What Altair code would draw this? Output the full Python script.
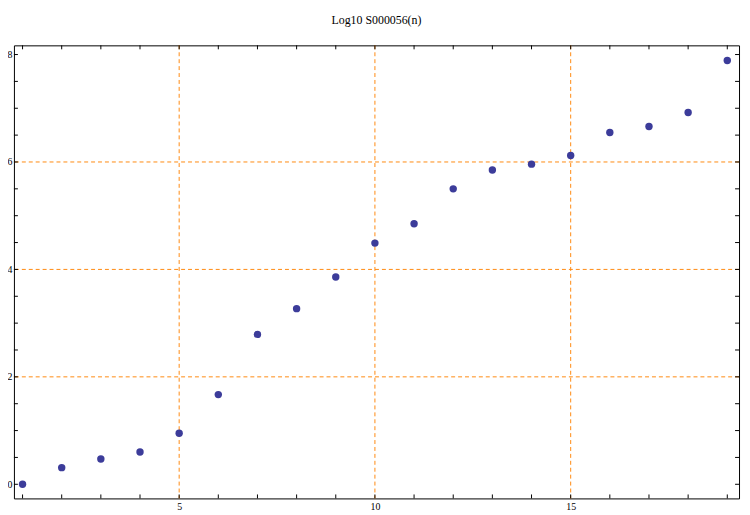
import altair as alt
import pandas as pd

# ---- data ----
n_values = list(range(1, 20))
log_values = [0.0, 0.31, 0.47, 0.60, 0.95, 1.67, 2.79, 3.27, 3.86, 4.49,
              4.85, 5.50, 5.85, 5.96, 6.12, 6.55, 6.66, 6.92, 7.89]
x_labels = [5, 10, 15]
y_labels = [0, 2, 4, 6, 8]
grid_x = [5, 10, 15]
grid_y = [2, 4, 6]
x_minor = list(range(1, 20))
y_minor = [i * 0.5 for i in range(0, 17)]

W, H = 733, 458
FONT = "Liberation Serif"
ORANGE = "#FF8A10"
DOT = "#3C3C9A"

df = pd.DataFrame({"n": n_values, "v": log_values})
xs = alt.Scale(domain=[0.78, 19.30], nice=False, zero=False)
ys = alt.Scale(domain=[-0.263, 8.171], nice=False, zero=False)

XAX = alt.Axis(values=x_labels, grid=False, domain=False, tickSize=0,
               labelPadding=3, labelFont=FONT, labelFontSize=10,
               labelColor="black", format="d", title=None)
YAX = alt.Axis(values=y_labels, grid=False, domain=False, tickSize=0,
               labelPadding=2, labelFont=FONT, labelFontSize=10,
               labelColor="black", format="d", title=None)

gx = alt.Chart(pd.DataFrame({"g": grid_x})).mark_rule(
    color=ORANGE, strokeWidth=1, strokeDash=[4, 3]
).encode(x=alt.X("g:Q", scale=xs, axis=XAX, title=None))
gy = alt.Chart(pd.DataFrame({"g": grid_y})).mark_rule(
    color=ORANGE, strokeWidth=1, strokeDash=[4, 3]
).encode(y=alt.Y("g:Q", scale=ys, axis=YAX, title=None))

xt = pd.DataFrame({"t": x_minor})
yt = pd.DataFrame({"t": y_minor})

def xticks(y0, sign):
    return alt.Chart(xt).mark_rule(color="black", strokeWidth=1).encode(
        x=alt.X("t:Q", scale=xs, axis=XAX, title=None),
        y=alt.value(y0),
        y2=alt.value(y0 + sign * 4),
    )

def yticks(x0, sign):
    return alt.Chart(yt).mark_rule(color="black", strokeWidth=1).encode(
        y=alt.Y("t:Q", scale=ys, axis=YAX, title=None),
        x=alt.value(x0),
        x2=alt.value(x0 + sign * 4),
    )

pts = alt.Chart(df).mark_circle(size=56, color=DOT, opacity=1).encode(
    x=alt.X("n:Q", scale=xs, axis=XAX, title=None),
    y=alt.Y("v:Q", scale=ys, axis=YAX, title=None),
)

chart = alt.layer(
    gx, gy,
    xticks(H, -1), xticks(0, 1), yticks(0, 1), yticks(W, -1),
    pts,
).properties(
    width=W, height=H,
    title=alt.TitleParams("Log10 S000056(n)", font=FONT, fontSize=12,
                          fontWeight="normal", color="black", offset=18,
                          anchor="middle"),
    autosize=alt.AutoSizeParams(type="none"),
    padding={"left": 6, "top": 35, "right": 3, "bottom": 14},
).configure_view(stroke="black", strokeWidth=1)

chart.save("out.html", embed_options={"renderer": "svg", "actions": False})
